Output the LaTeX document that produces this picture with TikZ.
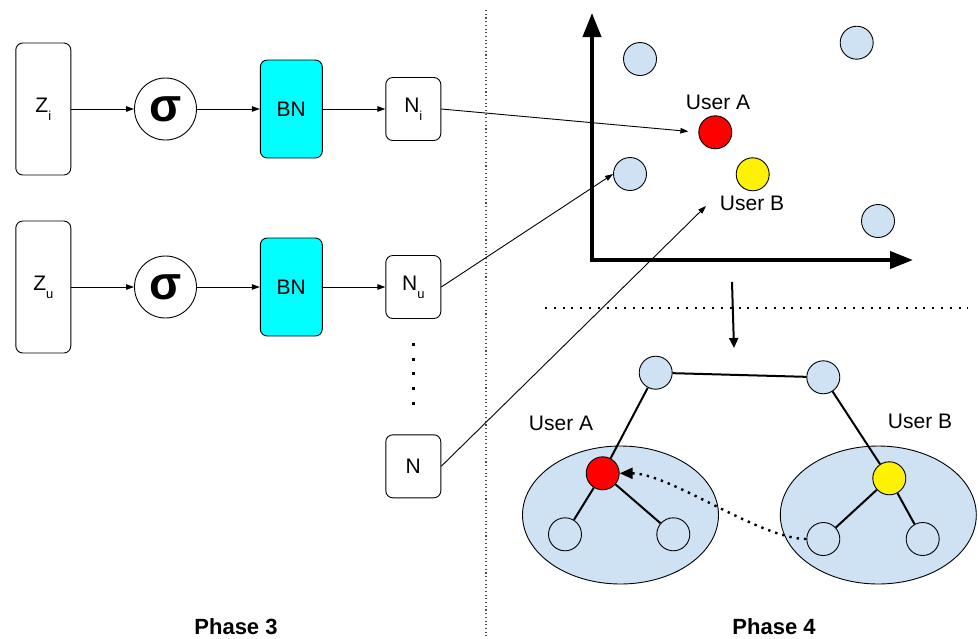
\documentclass[tikz,border=0pt]{standalone}
\usepackage{fontspec}
\setmainfont{Liberation Sans}
\usetikzlibrary{arrows.meta,shapes.geometric}
\definecolor{ptblue}{HTML}{CFE2F3}
\definecolor{bncyan}{HTML}{00FFFF}
\newcommand{\lowsub}[1]{\raisebox{-8pt}{\fontsize{13}{13}\selectfont #1}}

\begin{document}
\begin{tikzpicture}
  [x=1pt,y=-1pt,every node/.style={font=\fontsize{21}{21}\selectfont,inner sep=0pt}]
  \tikzstyle{blk}=[draw,line width=0.9pt,rounded corners=7pt,minimum width=55pt,minimum height=63pt]
  \tikzstyle{zbox}=[blk,minimum height=132pt]
  \tikzstyle{bnbox}=[blk,fill=bncyan,minimum width=62pt,minimum height=98pt]
  \tikzstyle{sig}=[draw,circle,line width=0.9pt,minimum size=62pt,font=\fontsize{47}{47}\selectfont\bfseries]
  \tikzstyle{pt}=[draw,circle,line width=0.9pt,minimum size=33pt,fill=ptblue]
  \tikzstyle{arr}=[-{Triangle[length=8pt,width=5.5pt]},line width=0.9pt]
  \tikzstyle{edge}=[line width=2pt]
  \tikzstyle{phase}=[font=\fontsize{22}{22}\selectfont\bfseries,anchor=base]
  \useasboundingbox (0,0) rectangle (978,638);

  % phase 3
  \node[zbox] (zi) at (43.3,109) {Z\lowsub{i}};
  \node[sig] (si) at (165.5,109) {σ};
  \node[bnbox] (bi) at (291.3,109) {BN};
  \node[blk] (ni) at (413.3,109) {N\lowsub{i}};

  \node[zbox] (zu) at (43.3,287) {Z\lowsub{u}};
  \node[sig] (su) at (165.5,287) {σ};
  \node[bnbox] (bu) at (291.3,287) {BN};
  \node[blk] (nu) at (413.3,287) {N\lowsub{u}};

  \node[blk] (nn) at (413.3,466.3) {N};
  \foreach \y in {344,359,373,388,403}
    \fill (411.5,\y-1.5) rectangle +(3,3);

  \draw[arr] (zi) -- (si);
  \draw[arr] (si) -- (bi);
  \draw[arr] (bi) -- (ni);
  \draw[arr] (zu) -- (su);
  \draw[arr] (su) -- (bu);
  \draw[arr] (bu) -- (nu);

  % divider
  \draw[black!70,line width=1.1pt,dash pattern=on 1.1pt off 2.6pt] (486,10) -- (486,638);

  % phase 4, scatter
  \draw[line width=4pt,{Triangle[length=24pt,width=18pt]}-{Triangle[length=23pt,width=17pt]}]
    (592,13) -- (592,260) -- (913,260);
  \node[pt] (c1) at (640,59) {};
  \node[pt] (c2) at (856.7,42.7) {};
  \node[pt] (c3) at (630,174) {};
  \node[pt] (c4) at (878,221) {};
  \node[pt,fill=red] (ua) at (715.3,132.3) {};
  \node[pt,fill=yellow] (ub) at (752.7,174.3) {};
  \node[anchor=base] (lua) at (718,109.3) {User A};
  \node[anchor=base] (lub) at (752,210.7) {User B};
  \coordinate (nb) at (706,206);

  \draw[arr] (ni.east) -- (ua.west) [shorten >=10pt];
  \draw[arr] (nu.east) -- (c3.west);
  \draw[arr] (nn.east) -- (nb);

  \draw[line width=2pt,dash pattern=on 2pt off 6.8pt] (545,308) -- (968,308);
  \draw[line width=2pt,-{Triangle[length=10pt,width=9pt]}] (732,282) -- (734,348);

  % phase 4, trees
  \node[draw,ellipse,line width=0.9pt,fill=ptblue,minimum width=196pt,minimum height=138pt] (ea) at (620.5,515) {};
  \node[draw,ellipse,line width=0.9pt,fill=ptblue,minimum width=196pt,minimum height=138pt] (eb) at (878.3,515) {};
  \node[pt] (t1) at (655.7,372.7) {};
  \node[pt] (t2) at (823.3,377.3) {};
  \node[pt,fill=red] (ra) at (602.7,473.3) {};
  \node[pt] (la1) at (565,534.3) {};
  \node[pt] (la2) at (673.3,534.3) {};
  \node[pt,fill=yellow] (yb) at (889.3,478.3) {};
  \node[pt] (lb1) at (823.3,539) {};
  \node[pt] (lb2) at (922.7,539) {};
  \draw[edge] (t1) -- (t2);
  \draw[edge] (t1) -- (ra);
  \draw[edge] (t2) -- (yb);
  \draw[edge] (ra) -- (la1);
  \draw[edge] (ra) -- (la2);
  \draw[edge] (yb) -- (lb1);
  \draw[edge] (yb) -- (lb2);
  \node[anchor=base] (tua) at (561,430) {User A};
  \node[anchor=base] (tub) at (920,428.3) {User B};

  \draw[line width=2.4pt,dash pattern=on 2.4pt off 5pt,-{Triangle[length=13pt,width=11pt]}]
    (lb1.west) .. controls (760,539) and (670,473.3) .. (ra.east);

  \node[phase] (p3) at (236,634) {Phase 3};
  \node[phase] (p4) at (774,634) {Phase 4};
\end{tikzpicture}
\end{document}
